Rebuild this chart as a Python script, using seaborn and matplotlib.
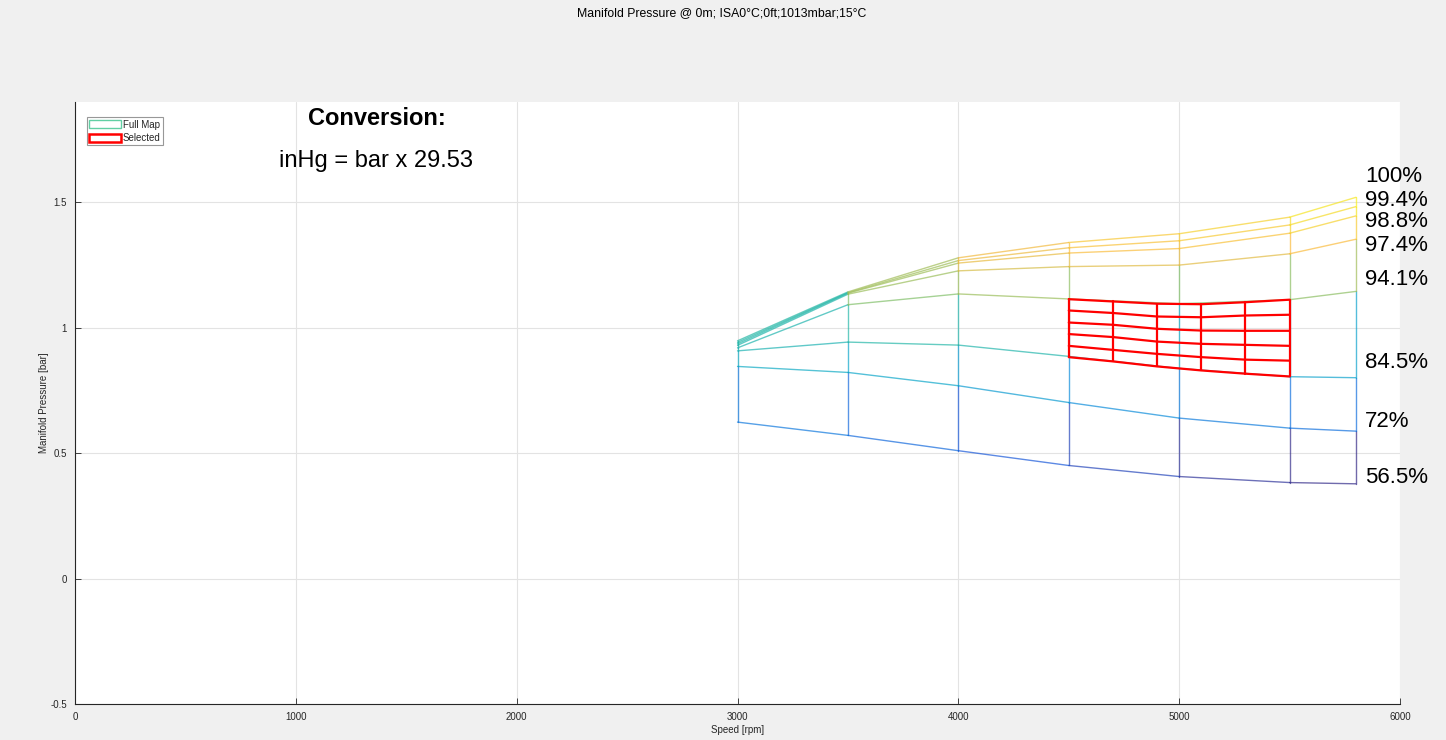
import numpy as np
import pandas as pd
import matplotlib.pyplot as plt
from matplotlib.colors import LinearSegmentedColormap
from matplotlib.patches import Patch
import seaborn as sns

# speed points of the full map [rpm]
rpm = [3000, 3500, 4000, 4500, 5000, 5500, 5800]

# throttle rows (bottom -> top) and manifold pressure [bar]
throttle = ['56.5%', '72%', '84.5%', '94.1%', '97.4%', '98.8%', '99.4%', '100%']
p_565 = [0.624, 0.571, 0.510, 0.451, 0.407, 0.383, 0.378]
p_720 = [0.846, 0.822, 0.769, 0.702, 0.640, 0.600, 0.588]
p_845 = [0.908, 0.943, 0.931, 0.886, 0.838, 0.805, 0.801]
p_941 = [0.920, 1.092, 1.135, 1.115, 1.096, 1.112, 1.145]
p_974 = [0.930, 1.134, 1.227, 1.244, 1.250, 1.295, 1.353]
p_988 = [0.936, 1.138, 1.258, 1.298, 1.316, 1.377, 1.446]
p_994 = [0.942, 1.140, 1.268, 1.319, 1.347, 1.410, 1.483]
p_100 = [0.948, 1.143, 1.279, 1.340, 1.375, 1.441, 1.520]
full_map = [p_565, p_720, p_845, p_941, p_974, p_988, p_994, p_100]

# selected region (red grid), rows bottom -> top
sel_rpm = [4500, 4700, 4900, 5100, 5300, 5500]
s_1 = [0.883, 0.866, 0.846, 0.830, 0.817, 0.806]
s_2 = [0.928, 0.912, 0.896, 0.883, 0.873, 0.869]
s_3 = [0.975, 0.963, 0.945, 0.936, 0.932, 0.928]
s_4 = [1.021, 1.012, 0.996, 0.989, 0.988, 0.988]
s_5 = [1.069, 1.059, 1.045, 1.042, 1.049, 1.052]
s_6 = [1.114, 1.105, 1.096, 1.094, 1.102, 1.112]
selected = [s_1, s_2, s_3, s_4, s_5, s_6]

# label heights next to the map
label_y = [0.402, 0.625, 0.861, 1.191, 1.327, 1.422, 1.506, 1.602]

# parula-like colormap
parula = LinearSegmentedColormap.from_list('parula', [
    (0.208, 0.166, 0.529), (0.100, 0.330, 0.850), (0.060, 0.450, 0.870),
    (0.040, 0.570, 0.850), (0.050, 0.660, 0.780), (0.150, 0.720, 0.650),
    (0.420, 0.750, 0.450), (0.720, 0.740, 0.300), (0.980, 0.730, 0.240),
    (0.960, 0.850, 0.160), (0.976, 0.984, 0.080)])

# mesh as 2-point edges, flat colour = left / lower vertex (like matlab mesh)
rows = []
seg = 0
for r in full_map:
    for j in range(len(rpm) - 1):
        rows.append([seg, rpm[j], r[j], r[j]])
        rows.append([seg, rpm[j + 1], r[j + 1], r[j]])
        seg += 1
for j in range(len(rpm)):
    for i in range(len(full_map) - 1):
        a, b = full_map[i][j], full_map[i + 1][j]
        rows.append([seg, rpm[j], a, min(a, b)])
        rows.append([seg, rpm[j], b, min(a, b)])
        seg += 1
mesh_df = pd.DataFrame(rows, columns=['seg', 'rpm', 'bar', 'c'])

sel_rows = []
k = 0
for r in selected:
    for x, y in zip(sel_rpm, r):
        sel_rows.append([k, x, y])
    k += 1
for j in range(len(sel_rpm)):
    for r in selected:
        sel_rows.append([k, sel_rpm[j], r[j]])
    k += 1
sel_df = pd.DataFrame(sel_rows, columns=['seg', 'rpm', 'bar'])

sns.set_theme(style='whitegrid')
plt.rcParams['font.family'] = ['Liberation Sans', 'DejaVu Sans']

fig = plt.figure(figsize=(14.46, 7.40), dpi=100, facecolor='#f0f0f0')
ax = fig.add_axes([0.0519, 0.0486, 0.9163, 0.8135])
ax.set_facecolor('white')

vmin = min(min(r) for r in full_map)
vmax = max(max(r) for r in full_map)
sns.lineplot(data=mesh_df, x='rpm', y='bar', units='seg', hue='c', estimator=None,
             sort=False, palette=parula, hue_norm=(vmin, vmax), legend=False,
             linewidth=1.0, alpha=0.7, ax=ax)
sns.lineplot(data=sel_df, x='rpm', y='bar', units='seg', estimator=None, sort=False,
             color='#ff0000', linewidth=1.6, ax=ax)

for lab, y in zip(throttle, label_y):
    ax.text(5842, y, lab, fontsize=16, color='black', ha='left', va='center', clip_on=False)

ax.text(1365, 1.835, 'Conversion:', fontsize=17, fontweight='bold', color='black',
        ha='center', va='center')
ax.text(1365, 1.665, 'inHg = bar x 29.53', fontsize=17, color='black', ha='center', va='center')

ax.set_xlim(0, 6000)
ax.set_ylim(-0.5, 1.9)
ax.set_xticks(range(0, 6001, 1000))
ax.set_yticks([-0.5, 0, 0.5, 1, 1.5])
ax.set_yticklabels(['-0.5', '0', '0.5', '1', '1.5'])
ax.grid(True, color='#e3e3e3', linewidth=0.8)
ax.tick_params(direction='in', length=4, width=0.6, labelsize=7, colors='#262626',
               pad=6, left=True, bottom=True)
for s in ['top', 'right']:
    ax.spines[s].set_visible(False)
for s in ['left', 'bottom']:
    ax.spines[s].set_color('#262626')
    ax.spines[s].set_linewidth(0.8)
ax.set_xlabel('Speed [rpm]', fontsize=7, labelpad=2)
ax.set_ylabel('Manifold Pressure [bar]', fontsize=7, labelpad=1)

handles = [Patch(facecolor='white', edgecolor='#62cfa4', linewidth=1.0, label='Full Map'),
           Patch(facecolor='white', edgecolor='#ff0000', linewidth=1.8, label='Selected')]
leg = ax.legend(handles=handles, loc='upper left', bbox_to_anchor=(0.009, 0.975),
                fontsize=7, frameon=True, fancybox=False, borderpad=0.25,
                handlelength=3.2, handleheight=0.9, handletextpad=0.25,
                labelspacing=0.35, borderaxespad=0)
leg.get_frame().set_edgecolor('#7f7f7f')
leg.get_frame().set_linewidth(0.8)

fig.text(0.4993, 0.982, 'Manifold Pressure @ 0m; ISA0°C;0ft;1013mbar;15°C',
         fontsize=8.8, color='black', ha='center', va='center')

fig.savefig('out.png', dpi=100, facecolor=fig.get_facecolor())
